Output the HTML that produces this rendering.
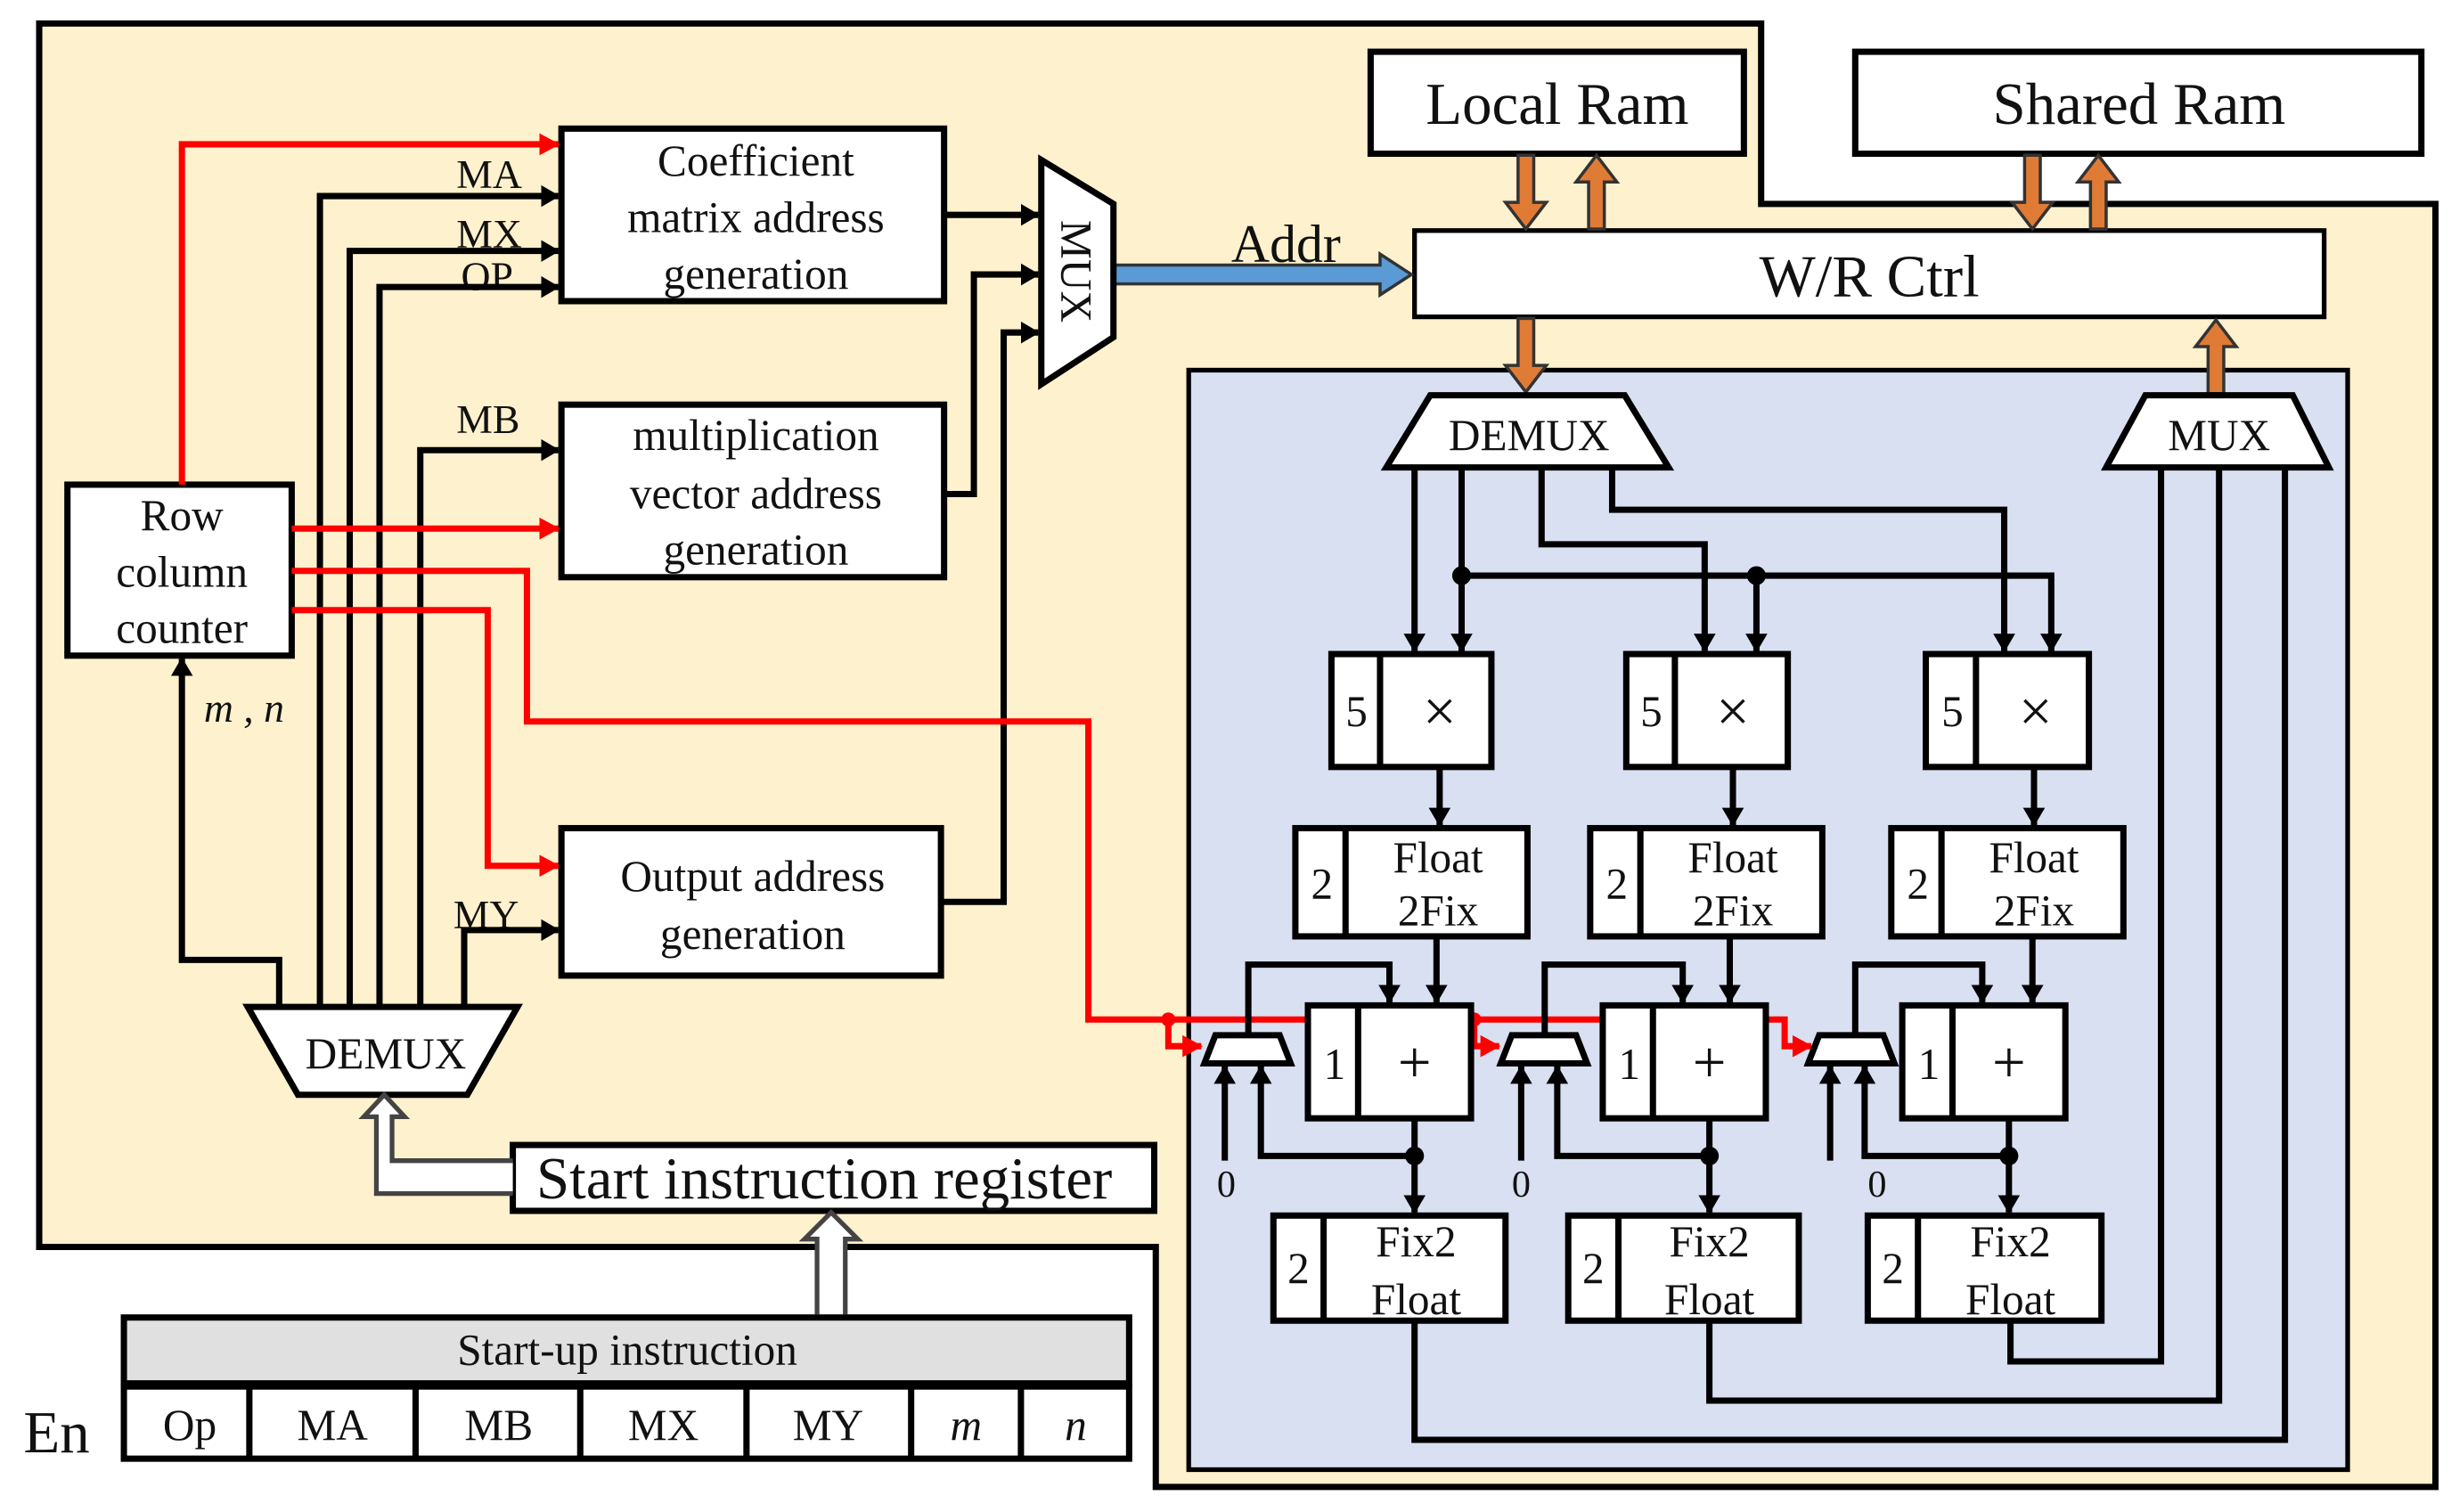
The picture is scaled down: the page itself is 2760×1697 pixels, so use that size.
<!DOCTYPE html>
<html><head><meta charset="utf-8"><style>
html,body{margin:0;padding:0;background:#fff}
svg{display:block}
text{font-family:"Liberation Serif",serif;fill:#111}
</style></head><body>
<svg width="2760" height="1697" viewBox="0 0 1568 964" preserveAspectRatio="none" xmlns="http://www.w3.org/2000/svg">
<defs>
<marker id="a" markerWidth="12" markerHeight="14" refX="11" refY="7" orient="auto" markerUnits="userSpaceOnUse"><path d="M0,0 L12,7 L0,14 z" fill="#000"/></marker>
<marker id="r" markerWidth="13" markerHeight="14" refX="12" refY="7" orient="auto" markerUnits="userSpaceOnUse"><path d="M0,0 L13,7 L0,14 z" fill="#f00"/></marker>
</defs>
<path d="M25,15 L1123,15 L1123,130 L1553,130 L1553,948 L737,948 L737,795 L25,795 Z" fill="#fef1cd" stroke="#000" stroke-width="4"/>
<rect x="758" y="236" width="739" height="701" fill="#d9e0f2" stroke="#000" stroke-width="3"/>

<rect x="874" y="33" width="238" height="65" fill="#fff" stroke="#000" stroke-width="4"/>
<text x="993" y="79" font-size="38" text-anchor="middle">Local Ram</text>
<rect x="1183" y="33" width="361" height="65" fill="#fff" stroke="#000" stroke-width="4"/>
<text x="1364" y="79" font-size="38" text-anchor="middle">Shared Ram</text>
<rect x="902" y="147" width="580" height="55" fill="#fff" stroke="#000" stroke-width="3"/>
<text x="1192" y="189" font-size="38" text-anchor="middle">W/R Ctrl</text>

<g fill="#e07b35" stroke="#333" stroke-width="2">
<path d="M968,99 h10 v30 h8 l-13,17 l-13,-17 h8 z"/>
<path d="M1013,146 h10 v-30 h8 l-13,-17 l-13,17 h8 z"/>
<path d="M1291,99 h10 v30 h8 l-13,17 l-13,-17 h8 z"/>
<path d="M1333,146 h10 v-30 h8 l-13,-17 l-13,17 h8 z"/>
<path d="M968,203 h10 v30 h8 l-13,17 l-13,-17 h8 z"/>
<path d="M1408,251 h10 v-30 h8 l-13,-17 l-13,17 h8 z"/>
</g>
<path d="M710,169 h170 v-7 l20,13 l-20,13 v-7 h-170 z" fill="#5b9bd5" stroke="#333" stroke-width="2"/>
<text x="820" y="167" font-size="34" text-anchor="middle">Addr</text>

<path d="M664,102 L710,130 L710,215 L664,245 Z" fill="#fff" stroke="#000" stroke-width="4"/>
<text x="0" y="0" font-size="28" transform="translate(677,173) rotate(90)" text-anchor="middle">MUX</text>

<g fill="#fff" stroke="#000" stroke-width="4">
<rect x="358" y="82" width="244" height="110"/>
<rect x="358" y="258" width="244" height="110"/>
<rect x="358" y="528" width="242" height="94"/>
<rect x="43" y="309" width="143" height="109"/>
<path d="M158,642 L330,642 L298,698 L190,698 Z"/>
<rect x="327" y="730" width="409" height="42"/>
</g>
<g font-size="28" text-anchor="middle">
<text x="482" y="112">Coefficient</text><text x="482" y="148">matrix address</text><text x="482" y="184">generation</text>
<text x="482" y="287">multiplication</text><text x="482" y="324">vector address</text><text x="482" y="360">generation</text>
<text x="480" y="568">Output address</text><text x="480" y="605">generation</text>
<text x="116" y="338">Row</text><text x="116" y="374">column</text><text x="116" y="410">counter</text>
<text x="246" y="681" font-size="28">DEMUX</text>
</g>
<text x="342" y="764" font-size="38">Start instruction register</text>
<text x="130" y="460" font-size="26" font-style="italic">m , n</text>
<g font-size="26"><text x="291" y="120">MA</text><text x="291" y="158">MX</text><text x="294" y="185">OP</text><text x="291" y="276">MB</text><text x="289" y="592">MY</text></g>

<g fill="none" stroke="#000" stroke-width="4">
<path d="M204,642 V125 H356" marker-end="url(#a)"/>
<path d="M223,642 V160 H356" marker-end="url(#a)"/>
<path d="M242,642 V183 H356" marker-end="url(#a)"/>
<path d="M268,642 V287 H356" marker-end="url(#a)"/>
<path d="M296,642 V593 H356" marker-end="url(#a)"/>
<path d="M178,642 V612 H116 V420" marker-end="url(#a)"/>
<path d="M602,137 H662" marker-end="url(#a)"/>
<path d="M602,315 H621 V175 H662" marker-end="url(#a)"/>
<path d="M600,575 H640 V212 H662" marker-end="url(#a)"/>
</g>
<path d="M327,740 H250 V712 H258 L245,698 L232,712 H240 V761 H327" fill="#fff" stroke="#444" stroke-width="3"/>
<path d="M521,838 V790 H513 L530,773 L547,790 H539 V838" fill="#fff" stroke="#444" stroke-width="3"/>

<g fill="none" stroke="#f00" stroke-width="4">
<path d="M116,309 V92 H356" marker-end="url(#r)"/>
<path d="M186,337 H356" marker-end="url(#r)"/>
<path d="M186,389 H311 V552 H356" marker-end="url(#r)"/>
<path d="M186,364 H336 V460 H694 V650 H1138 V667 H1155" marker-end="url(#r)"/>
<path d="M745,650 V667 H766" marker-end="url(#r)"/>
<path d="M940,650 V667 H956" marker-end="url(#r)"/>
</g>
<circle cx="745" cy="650" r="4.5" fill="#f00"/><circle cx="940" cy="650" r="4.5" fill="#f00"/>

<rect x="79" y="840" width="641" height="42" fill="#e0e0e0" stroke="#000" stroke-width="4"/>
<text x="400" y="870" font-size="28" text-anchor="middle">Start-up instruction</text>
<rect x="79" y="884" width="641" height="46" fill="#fff" stroke="#000" stroke-width="4"/>
<g stroke="#000" stroke-width="4"><line x1="159" y1="884" x2="159" y2="930"/><line x1="265" y1="884" x2="265" y2="930"/><line x1="370" y1="884" x2="370" y2="930"/><line x1="476" y1="884" x2="476" y2="930"/><line x1="581" y1="884" x2="581" y2="930"/><line x1="651" y1="884" x2="651" y2="930"/></g>
<g font-size="28" text-anchor="middle"><text x="121" y="918">Op</text><text x="212" y="918">MA</text><text x="318" y="918">MB</text><text x="423" y="918">MX</text><text x="528" y="918">MY</text><text x="616" y="918" font-style="italic">m</text><text x="686" y="918" font-style="italic">n</text></g>
<text x="15" y="926" font-size="38">En</text>

<path d="M912,252 L1036,252 L1064,298 L884,298 Z" fill="#fff" stroke="#000" stroke-width="4"/>
<text x="975" y="287" font-size="28" text-anchor="middle">DEMUX</text>
<path d="M1368,252 L1462,252 L1485,298 L1343,298 Z" fill="#fff" stroke="#000" stroke-width="4"/>
<text x="1415" y="287" font-size="28" text-anchor="middle">MUX</text>

<g fill="none" stroke="#000" stroke-width="4">
<path d="M902,298 V415" marker-end="url(#a)"/>
<path d="M932,298 V415" marker-end="url(#a)"/>
<path d="M983,298 V347 H1087 V415" marker-end="url(#a)"/>
<path d="M1028,298 V325 H1278 V415" marker-end="url(#a)"/>
<path d="M932,367 H1308 V415" marker-end="url(#a)"/>
<path d="M1120,367 V415" marker-end="url(#a)"/>
<path d="M918,489 V526" marker-end="url(#a)"/>
<path d="M1105,489 V526" marker-end="url(#a)"/>
<path d="M1297,489 V526" marker-end="url(#a)"/>
<path d="M916,597 V639" marker-end="url(#a)"/>
<path d="M1103,597 V639" marker-end="url(#a)"/>
<path d="M1296,597 V639" marker-end="url(#a)"/>
<path d="M796,660 V615 H886 V639" marker-end="url(#a)"/>
<path d="M985,660 V615 H1073 V639" marker-end="url(#a)"/>
<path d="M1183,660 V615 H1264 V639" marker-end="url(#a)"/>
<path d="M902,713 V773" marker-end="url(#a)"/>
<path d="M1090,713 V773" marker-end="url(#a)"/>
<path d="M1281,713 V773" marker-end="url(#a)"/>
<path d="M902,737 H804 V680" marker-end="url(#a)"/>
<path d="M1090,737 H993 V680" marker-end="url(#a)"/>
<path d="M1281,737 H1189 V680" marker-end="url(#a)"/>
<path d="M781,740 V680" marker-end="url(#a)"/>
<path d="M970,740 V680" marker-end="url(#a)"/>
<path d="M1167,740 V680" marker-end="url(#a)"/>
<path d="M902,842 V918 H1457 V298"/>
<path d="M1090,842 V893 H1415 V298"/>
<path d="M1282,842 V868 H1378 V298"/>
</g>
<g fill="#000"><circle cx="932" cy="367" r="6"/><circle cx="1120" cy="367" r="6"/><circle cx="902" cy="737" r="6"/><circle cx="1090" cy="737" r="6"/><circle cx="1281" cy="737" r="6"/></g>

<g fill="#fff" stroke="#000" stroke-width="4">
<path d="M775,660 L816,660 L823,678 L768,678 Z"/>
<path d="M964,660 L1005,660 L1012,678 L957,678 Z"/>
<path d="M1160,660 L1201,660 L1208,678 L1153,678 Z"/>
</g>
<g font-size="24" text-anchor="middle"><text x="782" y="763">0</text><text x="970" y="763">0</text><text x="1197" y="763">0</text></g>

<g fill="#fff" stroke="#000" stroke-width="4">
<rect x="849" y="417" width="102" height="72"/><line x1="880" y1="417" x2="880" y2="489"/>
<rect x="1037" y="417" width="103" height="72"/><line x1="1068" y1="417" x2="1068" y2="489"/>
<rect x="1228" y="417" width="104" height="72"/><line x1="1260" y1="417" x2="1260" y2="489"/>
<rect x="826" y="528" width="148" height="69"/><line x1="858" y1="528" x2="858" y2="597"/>
<rect x="1014" y="528" width="148" height="69"/><line x1="1046" y1="528" x2="1046" y2="597"/>
<rect x="1206" y="528" width="148" height="69"/><line x1="1238" y1="528" x2="1238" y2="597"/>
<rect x="834" y="641" width="104" height="72"/><line x1="866" y1="641" x2="866" y2="713"/>
<rect x="1022" y="641" width="104" height="72"/><line x1="1054" y1="641" x2="1054" y2="713"/>
<rect x="1213" y="641" width="104" height="72"/><line x1="1245" y1="641" x2="1245" y2="713"/>
<rect x="812" y="775" width="148" height="67"/><line x1="844" y1="775" x2="844" y2="842"/>
<rect x="1000" y="775" width="147" height="67"/><line x1="1032" y1="775" x2="1032" y2="842"/>
<rect x="1191" y="775" width="149" height="67"/><line x1="1223" y1="775" x2="1223" y2="842"/>
</g>
<g font-size="28" text-anchor="middle">
<text x="865" y="463">5</text><text x="1053" y="463">5</text><text x="1245" y="463">5</text>
<text x="918" y="466" font-size="38">×</text><text x="1105" y="466" font-size="38">×</text><text x="1298" y="466" font-size="38">×</text>
<text x="843" y="573">2</text><text x="1031" y="573">2</text><text x="1223" y="573">2</text>
<text x="917" y="556">Float</text><text x="917" y="590">2Fix</text>
<text x="1105" y="556">Float</text><text x="1105" y="590">2Fix</text>
<text x="1297" y="556">Float</text><text x="1297" y="590">2Fix</text>
<text x="851" y="688">1</text><text x="1039" y="688">1</text><text x="1230" y="688">1</text>
<text x="902" y="690" font-size="38">+</text><text x="1090" y="690" font-size="38">+</text><text x="1281" y="690" font-size="38">+</text>
<text x="828" y="818">2</text><text x="1016" y="818">2</text><text x="1207" y="818">2</text>
<text x="903" y="801">Fix2</text><text x="903" y="838">Float</text>
<text x="1090" y="801">Fix2</text><text x="1090" y="838">Float</text>
<text x="1282" y="801">Fix2</text><text x="1282" y="838">Float</text>
</g>
</svg>
</body></html>
